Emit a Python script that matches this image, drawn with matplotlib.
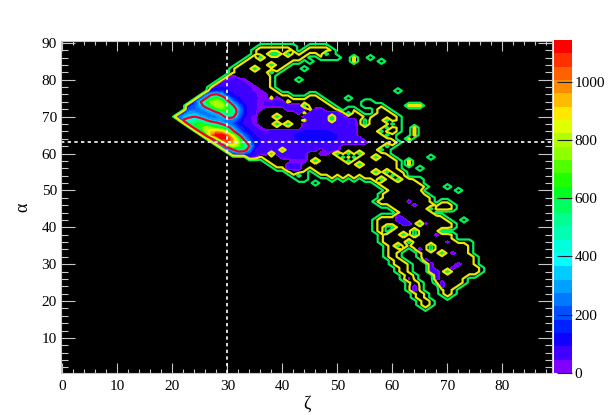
import numpy as np
import matplotlib
matplotlib.use('Agg')
import matplotlib.pyplot as plt
from matplotlib.ticker import MultipleLocator

plt.rcParams['font.family'] = ['Liberation Serif', 'DejaVu Serif']

zeta = np.arange(0, 90)
alpha = np.arange(1, 91)

# zeta spans inside the outer contour, by alpha
interior = {
    89: [(36, 42), (45, 48)], 88: [(35, 42), (44, 49)], 87: [(35, 49)],
    86: [(34, 44), (47, 50)], 85: [(33, 43)], 84: [(32, 41)], 83: [(31, 40)],
    82: [(31, 39)], 81: [(30, 38)], 80: [(29, 38)], 79: [(28, 38)],
    78: [(27, 38)], 77: [(27, 39)], 76: [(26, 41), (45, 46)], 75: [(25, 47)],
    74: [(24, 48), (55, 56)], 73: [(23, 49), (55, 58)], 72: [(23, 53), (57, 59)],
    71: [(22, 54), (57, 60)], 70: [(21, 61)], 69: [(22, 61)], 68: [(23, 61)],
    67: [(24, 61)], 66: [(25, 61)], 65: [(26, 60)], 64: [(27, 60)], 63: [(28, 61)],
    62: [(29, 60)], 61: [(30, 59)], 60: [(31, 59)], 59: [(34, 60)], 58: [(37, 61)],
    57: [(38, 61)], 56: [(39, 61)], 55: [(41, 44), (46, 62)], 54: [(42, 44), (47, 63)],
    53: [(43, 44), (49, 49), (51, 51), (53, 53), (55, 65)], 52: [(57, 65)],
    51: [(58, 66)], 50: [(59, 66)], 49: [(58, 66)], 48: [(58, 67)],
    47: [(57, 67), (69, 70)], 46: [(58, 71)], 45: [(60, 71)], 44: [(61, 70)],
    43: [(58, 69)], 42: [(57, 70)], 41: [(57, 71)], 40: [(57, 71)], 39: [(57, 70)],
    38: [(58, 71)], 37: [(58, 71)], 36: [(58, 74)], 35: [(59, 74)],
    34: [(59, 62), (64, 74)], 33: [(59, 61), (65, 74)], 32: [(59, 61), (65, 75)],
    31: [(60, 62), (66, 75)], 30: [(60, 63), (67, 75)], 29: [(61, 63), (67, 76)],
    28: [(61, 63), (67, 76)], 27: [(62, 64), (68, 75)], 26: [(62, 64), (68, 73)],
    25: [(63, 65), (68, 73)], 24: [(63, 65), (69, 72)], 23: [(63, 65), (69, 71)],
    22: [(64, 66), (69, 71)], 21: [(64, 66), (70, 70)], 20: [(65, 67)],
    19: [(65, 67)], 18: [(66, 66)],
}

# single (zeta, alpha) samples
holes = [(36, 86), (35, 83), (38, 84), (38, 82), (38, 87), (39, 87), (41, 87), (48, 87),
         (39, 70), (39, 68), (41, 68), (44, 73), (49, 69), (49, 70), (51, 72), (52, 71),
         (55, 68), (55, 69), (59, 69), (60, 68), (59, 67), (58, 66), (59, 65), (59, 62),
         (58, 61), (57, 59), (50, 60), (51, 59), (52, 60), (53, 59), (54, 60), (52, 58),
         (54, 57), (46, 58), (43, 54), (38, 60), (40, 61), (57, 55), (59, 55), (58, 53),
         (60, 54), (63, 54), (61, 53), (66, 50), (67, 45), (68, 44), (65, 41), (59, 40),
         (60, 40), (59, 39), (62, 38), (64, 38), (64, 39), (63, 36), (61, 35), (67, 34),
         (67, 35), (69, 33), (70, 39), (69, 39), (70, 28), (69, 44), (70, 44)]
dips = [(38, 75), (41, 74), (45, 72), (44, 71), (44, 69)]
weak_peaks = [(45, 85), (44, 83), (43, 80), (52, 75), (56, 86), (58, 85), (61, 77),
              (67, 59), (65, 56), (46, 52), (70, 51), (72, 50), (73, 42)]
strong_peaks = [(53, 85), (53, 86), (63, 73), (64, 73), (65, 73), (64, 66), (64, 67),
                (63, 64), (64, 65), (63, 57), (63, 58)]

# hot region, alpha: (first zeta, values)
hot_rows = {
    81: (31, [40]),
    80: (30, [40, 50, 50, 30]),
    79: (29, [50, 60, 60, 60, 50, 30]),
    78: (28, [70, 90, 90, 70, 60, 60, 50, 30]),
    77: (27, [100, 150, 150, 100, 70, 60, 60, 50, 40, 20]),
    76: (26, [200, 350, 400, 300, 150, 100, 70, 60, 60, 50, 30, 20]),
    75: (25, [200, 350, 550, 650, 500, 300, 150, 100, 70, 60, 50, 40, 30]),
    74: (24, [150, 350, 550, 750, 800, 700, 450, 250, 140, 80, 60, 50, 30]),
    73: (23, [150, 200, 300, 450, 650, 800, 800, 650, 400, 230, 120, 60, 50, 30]),
    72: (23, [200, 220, 250, 300, 400, 600, 700, 650, 500, 300, 130, 60, 50, 30]),
    71: (22, [150, 300, 300, 250, 250, 280, 330, 450, 600, 550, 280, 130, 60, 50]),
    70: (21, [200, 300, 350, 380, 330, 280, 250, 260, 320, 450, 420, 230, 100, 50, 30]),
    69: (22, [400, 450, 500, 480, 400, 320, 280, 260, 260, 240, 160, 80, 50, 30]),
    68: (23, [500, 600, 650, 550, 500, 450, 380, 280, 200, 120, 80, 60, 30]),
    67: (24, [500, 650, 800, 750, 650, 600, 450, 300, 180, 120, 70, 50, 30]),
    66: (25, [450, 750, 900, 950, 900, 700, 420, 250, 150, 100, 60, 50, 40]),
    65: (26, [420, 950, 1140, 1140, 1000, 800, 420, 230, 130, 90, 80, 80]),
    64: (27, [300, 750, 1140, 1100, 950, 700, 330, 170, 100, 90, 80]),
    63: (28, [280, 550, 1050, 950, 800, 500, 260, 110, 90, 70]),
    62: (29, [250, 480, 800, 700, 550, 380, 110, 80, 60]),
    61: (30, [200, 350, 550, 500, 260, 80, 60, 50]),
    60: (31, [150, 200, 200, 150, 60, 50, 50]),
    59: (34, [60, 30]),
}

# low patches: alpha, first zeta, last zeta, value
low_spans = [(75, 37, 39, 40), (74, 37, 41, 50), (73, 37, 43, 50), (72, 41, 47, 50),
             (71, 43, 50, 55), (70, 44, 51, 55), (69, 44, 53, 60), (68, 44, 53, 65),
             (67, 44, 53, 70), (66, 38, 53, 75), (66, 44, 48, 95), (65, 38, 53, 85),
             (65, 43, 49, 130), (64, 38, 54, 85), (64, 43, 49, 110), (63, 38, 55, 70),
             (62, 38, 50, 60), (61, 38, 46, 55), (61, 48, 50, 50), (60, 38, 44, 50),
             (60, 47, 48, 40), (59, 40, 44, 50), (58, 42, 44, 40), (57, 41, 43, 50),
             (56, 41, 43, 50), (47, 63, 63, 50), (46, 64, 64, 50), (43, 61, 61, 60),
             (42, 61, 62, 60), (41, 62, 63, 60), (41, 66, 66, 30), (38, 68, 68, 40),
             (36, 70, 70, 25), (34, 65, 65, 40), (31, 66, 66, 60), (30, 67, 67, 60),
             (29, 67, 67, 60), (28, 67, 68, 60), (27, 68, 68, 60), (26, 68, 68, 60),
             (25, 69, 69, 60), (24, 69, 69, 60), (33, 71, 71, 50), (30, 72, 72, 60),
             (29, 71, 71, 50), (26, 63, 63, 25), (24, 64, 64, 50), (23, 64, 64, 50)]

bar_colors = ['#8000ff', '#4000ff', '#1000ff', '#0020ff', '#0050ff', '#0078ff', '#00a0ff',
              '#00ccff', '#00ffff', '#00ffdd', '#00ffb0', '#00ff90', '#00ff60', '#00ff20',
              '#20ff00', '#50ff00', '#90ff00', '#b0ff00', '#e0ff00', '#ffe800', '#ffbb00',
              '#ff8c00', '#ff6000', '#ff3000', '#ff0000']
bar_top = 1143
outside, edge, inside = -300, -110, -50

z = np.full((len(alpha), len(zeta)), float(outside))
for a, spans in interior.items():
    for first, last in spans:
        z[a - 1, first:last + 1] = inside

# samples on the rim of the region sit lower, the yellow line runs one step inside
mask = z == inside
core = mask.copy()
core[1:-1, 1:-1] = mask[1:-1, 1:-1] & mask[:-2, 1:-1] & mask[2:, 1:-1] & mask[1:-1, :-2] & mask[1:-1, 2:]
z[mask & ~core] = edge

for a, first, last, value in low_spans:
    z[a - 1, first:last + 1] = value
for a, (first, values) in hot_rows.items():
    z[a - 1, first:first + len(values)] = values
for zt, a in holes:
    z[a - 1, zt] = outside
for zt, a in dips:
    z[a - 1, zt] = -130
for zt, a in weak_peaks:
    z[a - 1, zt] = -100
for zt, a in strong_peaks:
    z[a - 1, zt] = -50

fig = plt.figure(figsize=(6.13, 4.15), dpi=100)
ax = fig.add_axes([61 / 613, 42 / 415, 491 / 613, 332 / 415])
ax.set_facecolor('black')

levels = np.linspace(0, bar_top, len(bar_colors) + 1)
cf = ax.contourf(zeta, alpha, z, levels=levels, colors=bar_colors)
ax.contour(zeta, alpha, z, levels=[-240, -95, 380],
           colors=['#00f05a', '#e8e800', '#f00028'], linewidths=1.6)

ax.axvline(30, color='white', lw=1.2, ls=(0, (2, 2)))
ax.axhline(63, color='white', lw=1.2, ls=(0, (2, 2)))

ax.set_xlim(-0.25, 89)
ax.set_ylim(0.5, 90.5)
ax.xaxis.set_major_locator(MultipleLocator(10))
ax.xaxis.set_minor_locator(MultipleLocator(2))
ax.yaxis.set_major_locator(MultipleLocator(10))
ax.yaxis.set_minor_locator(MultipleLocator(2))
ax.tick_params(axis='x', which='major', direction='in', top=True, length=7.2, width=0.8,
               color='#c8c8c8', labelsize=11, pad=5)
ax.tick_params(axis='x', which='minor', direction='in', top=True, length=3, width=0.8,
               color='#c8c8c8')
ax.tick_params(axis='y', which='major', direction='in', right=True, length=10, width=0.8,
               color='#c8c8c8', labelsize=11, pad=3)
ax.tick_params(axis='y', which='minor', direction='in', right=True, length=5, width=0.8,
               color='#c8c8c8')
for spine in ax.spines.values():
    spine.set_color('#c8c8c8')
ax.set_xlabel('ζ', fontsize=13, labelpad=2)
ax.set_ylabel('α', fontsize=13, labelpad=7)

cax = fig.add_axes([553.7 / 613, 42 / 415, 18 / 613, 333 / 415])
cbar = fig.colorbar(cf, cax=cax, ticks=[0, 200, 400, 600, 800, 1000], drawedges=False)
cbar.outline.set_visible(False)
cbar.ax.tick_params(direction='in', length=10.8, width=0.8, color='#202020', labelsize=11, pad=2)

fig.savefig('out.png', dpi=100)
